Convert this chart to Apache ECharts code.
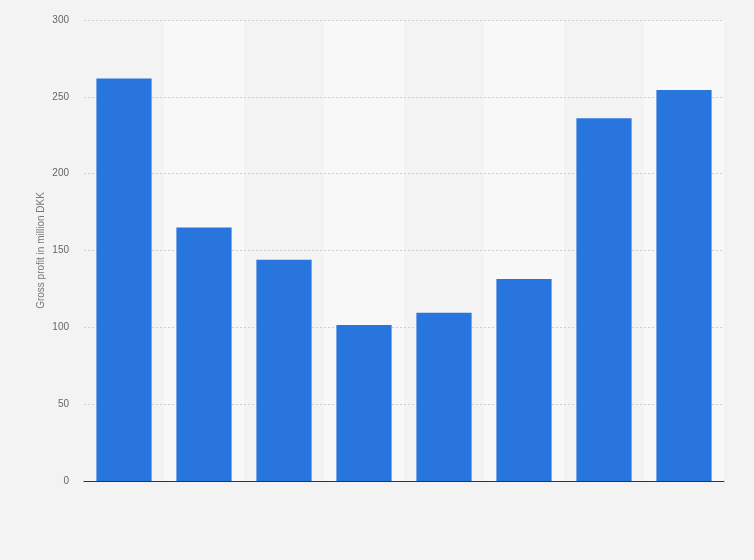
<!DOCTYPE html>
<html>
<head>
<meta charset="utf-8">
<script src="https://cdn.jsdelivr.net/npm/echarts@6/dist/echarts.min.js"></script>
<style>
html,body{margin:0;padding:0;background:#f3f3f3;}
#c{width:754px;height:560px;}
</style>
</head>
<body>
<div id="c"></div>
<script>
const categories = ['1', '2', '3', '4', '5', '6', '7', '8'];
const grossProfit = [262, 165, 144, 101.5, 109.5, 131.5, 236, 254.5];
const yTicks = { min: 0, max: 300, interval: 50 };
const yAxisTitle = 'Gross profit in million DKK';

const chart = echarts.init(document.getElementById('c'));
chart.setOption({
  backgroundColor: '#f3f3f3',
  animation: false,
  grid: { left: 84, right: 30, top: 20, bottom: 79, containLabel: false },
  xAxis: {
    type: 'category',
    data: categories,
    z: 0,
    axisLine: { show: true, lineStyle: { color: '#333', width: 1 } },
    axisTick: { show: false },
    axisLabel: { show: false },
    splitArea: { show: true, areaStyle: { color: ['rgba(0,0,0,0)', '#f8f8f8'] } }
  },
  yAxis: {
    type: 'value',
    z: 1,
    min: yTicks.min, max: yTicks.max, interval: yTicks.interval,
    name: yAxisTitle,
    nameLocation: 'middle',
    nameGap: 38,
    nameMoveOverlap: false,
    nameTextStyle: { color: '#777', fontSize: 10, fontFamily: 'Liberation Sans, Arial, sans-serif' },
    axisLine: { show: false },
    axisTick: { show: false },
    axisLabel: { color: '#666', fontSize: 10, margin: 15, fontFamily: 'Liberation Sans, Arial, sans-serif' },
    splitLine: { showMinLine: false, lineStyle: { color: '#cfcfcf', type: [2, 2], width: 1 } }
  },
  series: [{
    type: 'bar',
    data: grossProfit,
    z: 2,
    barCategoryGap: '31%',
    itemStyle: { color: '#2876dd' }
  }]
});
</script>
</body>
</html>
